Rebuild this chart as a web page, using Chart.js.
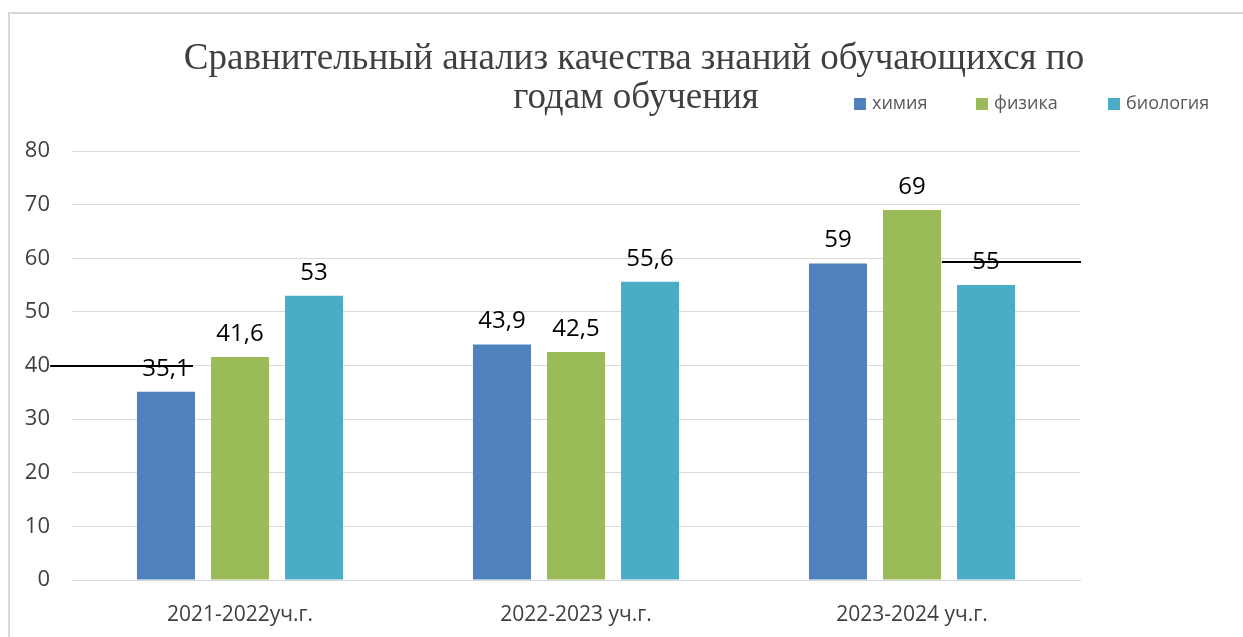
<!DOCTYPE html>
<html>
<head>
<meta charset="utf-8">
<script src="https://cdn.jsdelivr.net/npm/chart.js@4/dist/chart.umd.min.js"></script>
<style>
	html, body { margin: 0; padding: 0; background: #fff; }
	#wrap { width: 1243px; height: 637px; }
</style>
</head>
<body>
<div id="wrap"><canvas id="BarChart" width="1243" height="637"></canvas></div>
<script>
// data
var titleLines = ['Сравнительный анализ качества знаний обучающихся по', 'годам обучения'];
var years = ['2021-2022уч.г.', '2022-2023 уч.г.', '2023-2024 уч.г.'];
var seriesNames = ['химия', 'физика', 'биология'];
var chemistry = [35.1, 43.9, 59];
var physics = [41.6, 42.5, 69];
var biology = [53, 55.6, 55];
var yTicks = [0, 10, 20, 30, 40, 50, 60, 70, 80];
// stray black strokes in the original, in data units (category index, value)
var strokes = [
	{ from: -0.565, to: -0.14, value: 40 },
	{ from: 2.089, to: 2.503, value: 59.3 }
];

var colors = ['#4F81BD', '#9BBB59', '#4BACC6'];
var sans = '"Open Sans", sans-serif';

var fmt = function(v) {
	return String(v).replace('.', ',');
};

// title, legend, frame, value labels and strokes
var extras = {
	id: 'extras',
	beforeDraw: function(chart) {
		var ctx = chart.ctx;
		ctx.save();
		ctx.strokeStyle = '#d9d9d9';
		ctx.lineWidth = 2;
		ctx.strokeRect(9, 13, 1400, 800);
		ctx.restore();
	},
	afterDraw: function(chart) {
		var ctx = chart.ctx;
		var x = chart.scales.x, y = chart.scales.y;
		ctx.save();

		ctx.fillStyle = '#404040';
		ctx.font = '37px "Liberation Serif", serif';
		ctx.textAlign = 'center';
		ctx.textBaseline = 'alphabetic';
		ctx.fillText(titleLines[0], 634, 69);
		ctx.fillText(titleLines[1], 636, 108);

		var legendX = [854, 976, 1108];
		ctx.font = '18px ' + sans;
		ctx.textAlign = 'left';
		ctx.textBaseline = 'middle';
		seriesNames.forEach(function(name, i) {
			ctx.fillStyle = colors[i];
			ctx.fillRect(legendX[i], 98, 12, 12);
			ctx.fillStyle = '#595959';
			ctx.fillText(name, legendX[i] + 18, 104);
		});

		ctx.fillStyle = '#000';
		ctx.font = '24px ' + sans;
		ctx.textAlign = 'center';
		ctx.textBaseline = 'middle';
		chart.data.datasets.forEach(function(ds, i) {
			chart.getDatasetMeta(i).data.forEach(function(bar, j) {
				ctx.fillText(fmt(ds.data[j]), bar.x, bar.y - 23);
			});
		});

		ctx.strokeStyle = '#000';
		ctx.lineWidth = 2;
		strokes.forEach(function(s) {
			var py = Math.round(y.getPixelForValue(s.value));
			ctx.beginPath();
			ctx.moveTo(x.getPixelForValue(s.from), py);
			ctx.lineTo(x.getPixelForValue(s.to), py);
			ctx.stroke();
		});
		ctx.restore();
	}
};

var datasets = [chemistry, physics, biology].map(function(values, i) {
	return {
		label: seriesNames[i],
		data: values,
		backgroundColor: colors[i],
		barPercentage: 0.784,
		categoryPercentage: 0.661
	};
});

new Chart(document.getElementById('BarChart'), {
	type: 'bar',
	data: { labels: years, datasets: datasets },
	plugins: [extras],
	options: {
		responsive: false,
		animation: false,
		layout: { padding: { left: 0, right: 163, top: 151, bottom: 0 } },
		plugins: {
			legend: { display: false },
			title: { display: false },
			tooltip: { enabled: false }
		},
		scales: {
			x: {
				grid: { display: false },
				border: { display: true, color: '#d9d9d9', width: 1 },
				ticks: { color: '#404040', font: { family: sans, size: 21 }, padding: 14 },
				afterFit: function(scale) { scale.height = 57; }
			},
			y: {
				min: 0,
				max: 80,
				afterBuildTicks: function(scale) {
					scale.ticks = yTicks.map(function(v) { return { value: v }; });
				},
				grid: { color: '#d9d9d9', lineWidth: 1, drawTicks: false },
				border: { display: false },
				ticks: { color: '#404040', font: { family: sans, size: 22 }, padding: 22 },
				afterFit: function(scale) { scale.width = 72; }
			}
		}
	}
});
</script>
</body>
</html>
